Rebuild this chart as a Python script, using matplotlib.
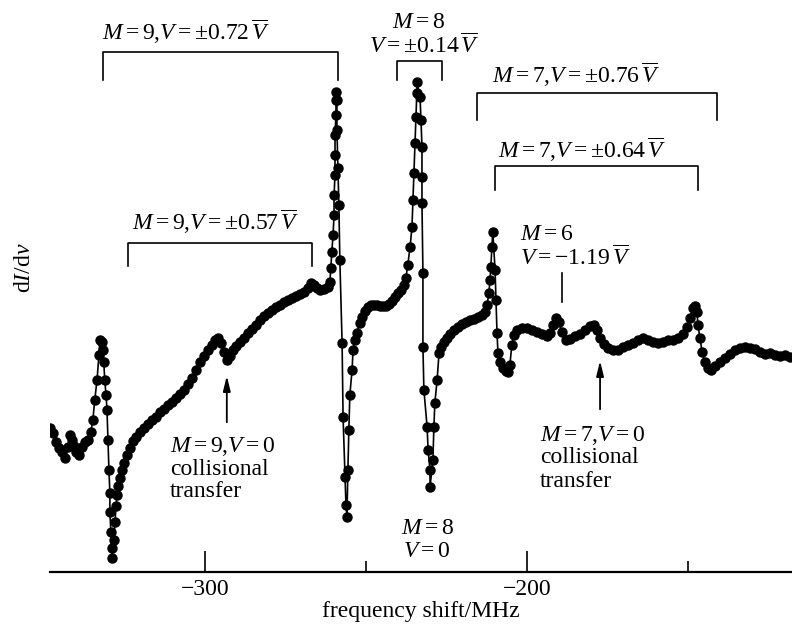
import matplotlib
matplotlib.use("Agg")
import matplotlib.pyplot as plt

plt.rcParams['font.family'] = ['Liberation Serif', 'DejaVu Serif']
plt.rcParams['mathtext.fontset'] = 'custom'
plt.rcParams['mathtext.rm'] = 'Liberation Serif'
plt.rcParams['mathtext.it'] = 'Liberation Serif:italic'
plt.rcParams['mathtext.bf'] = 'Liberation Serif:bold'

# frequency shift (MHz) and derivative signal dI/dnu (arbitrary units)
freq = [
    -348.1, -347.2, -346.3, -345.3, -344.4, -343.5, -342.5, -341.9, -341.3, -340.7,
    -340.1, -339.1, -338.2, -337.3, -336.3, -335.4, -334.8, -334.2, -333.5, -332.9,
    -332.6, -332.0, -331.7, -331.4, -331.1, -330.7, -330.4, -330.1, -329.8, -329.5,
    -329.5, -329.2, -328.9, -328.9, -328.3, -327.9, -327.6, -327.3, -327.0, -326.4,
    -325.8, -325.2, -324.2, -323.3, -322.4, -321.4, -320.2, -318.9, -317.7, -316.5,
    -315.2, -314.0, -312.7, -311.5, -310.2, -309.0, -307.8, -306.5, -305.3, -304.0,
    -302.8, -301.5, -300.3, -299.1, -297.8, -296.9, -296.0, -295.0, -294.1, -293.2,
    -292.2, -291.3, -290.4, -289.1, -287.9, -286.6, -285.4, -284.2, -282.9, -281.7,
    -280.4, -279.2, -278.0, -276.7, -275.5, -274.2, -273.0, -271.7, -270.5, -269.3,
    -268.0, -267.1, -266.1, -265.2, -264.3, -263.0, -261.8, -261.2, -260.9, -260.6,
    -260.2, -259.9, -259.9, -259.6, -259.6, -259.6, -259.3, -259.3, -259.3,
    -259.0, -259.0, -258.7, -258.4, -258.1, -257.4, -257.1, -256.5, -256.2, -255.9,
    -255.6, -255.3, -255.0, -254.3, -254.0, -253.4, -252.8, -251.9, -251.2, -250.3,
    -249.4, -248.4, -247.5, -246.6, -245.6, -244.7, -243.8, -242.9, -241.9, -241.0,
    -240.1, -239.1, -238.2, -237.6, -237.0, -236.3, -235.7, -235.4, -235.1, -234.8,
    -234.5, -234.2, -234.2,
    -233.2, -232.9, -232.6, -232.6, -232.6, -232.3, -232.3, -232.0, -231.0, -230.7,
    -230.1, -230.1,
    -229.2, -228.9, -228.6, -227.9, -227.3, -226.7, -225.8, -224.8, -223.9, -222.7,
    -221.4, -220.2, -218.9, -217.7, -216.5, -215.2, -214.0, -213.0, -212.4, -211.8,
    -211.5, -211.2, -210.9, -210.6,
    -209.9, -209.6, -209.3, -209.0, -208.4, -207.5, -206.5, -205.9, -205.3, -204.7,
    -204.0, -203.1, -201.5, -200.0, -198.4, -196.9, -195.3, -193.8, -192.9, -191.9,
    -191.0, -190.1, -189.1, -187.9, -186.6, -185.1, -183.5, -182.0, -180.4, -179.2,
    -178.3, -177.3, -176.1, -174.8, -173.3, -171.7, -170.2, -168.6, -167.1, -165.5,
    -164.0, -162.4, -160.9, -159.3, -157.8, -156.2, -154.7, -153.1, -151.5, -150.3,
    -149.4, -148.4, -147.8, -147.2, -146.9, -146.3, -145.6, -144.7, -143.8, -142.9,
    -141.6, -140.1, -138.5, -137.0, -135.4, -133.8, -132.3, -130.7, -129.2, -127.6,
    -126.1, -124.5, -123.0, -121.4, -119.9, -118.3,
]
signal = [
    28.8, 27.8, 26.0, 24.8, 24.0, 22.8, 25.0, 27.4, 26.4, 25.2,
    24.0, 23.4, 25.0, 26.0, 26.4, 28.0, 30.4, 34.4, 38.4, 43.4,
    46.4, 46.0, 44.4, 42.0, 38.4, 35.4, 32.4, 26.4, 20.4, 15.8,
    12.0, 8.0, 4.8, 2.8, 6.4, 10.0, 13.2, 15.4, 17.2, 18.8,
    20.4, 21.8, 23.4, 24.8, 26.2, 27.0, 28.0, 28.8, 29.6, 30.4,
    31.0, 32.0, 32.6, 33.4, 34.0, 34.8, 35.6, 36.4, 37.6, 38.8,
    40.4, 42.0, 43.2, 44.4, 45.4, 46.4, 46.8, 45.8, 44.0, 42.4,
    43.2, 44.4, 45.2, 46.0, 46.8, 47.8, 48.6, 49.4, 50.4, 51.2,
    51.8, 52.4, 53.0, 53.4, 54.0, 54.4, 54.8, 55.2, 55.6, 56.0,
    56.8, 57.8, 57.4, 56.8, 56.4, 56.6, 57.0, 58.0, 60.8, 64.0,
    67.4, 71.4, 75.4, 79.4, 83.4, 87.4, 91.4, 94.4, 96.0,
    94.4, 88.4, 80.8, 73.4, 62.4, 45.8, 31.0, 19.0, 13.4, 11.0,
    20.4, 28.4, 35.4, 40.4, 44.4, 46.4, 47.8, 49.8, 51.0, 52.2,
    53.0, 53.4, 53.4, 53.4, 53.2, 53.2, 53.2, 53.6, 54.2, 55.0,
    55.8, 56.4, 57.4, 58.8, 61.4, 65.0, 69.0, 74.4, 79.8, 85.8,
    91.0, 95.8, 98.0,
    95.0, 90.4, 85.0, 79.0, 73.8, 59.8, 45.0, 36.4, 29.0, 24.4,
    20.4, 17.0,
    22.4, 29.0, 33.8, 38.4, 43.8, 45.0, 46.0, 46.8, 47.6, 48.4,
    49.0, 49.6, 50.0, 50.4, 50.6, 51.0, 51.4, 52.0, 53.4, 55.8,
    58.4, 61.0, 65.0, 68.0,
    60.4, 54.4, 47.8, 43.8, 42.0, 40.8, 40.2, 40.0, 41.4, 45.4,
    47.4, 48.4, 48.8, 48.8, 48.4, 48.0, 47.6, 47.2, 47.8, 49.4,
    50.8, 50.0, 48.0, 46.4, 46.6, 47.2, 47.6, 48.4, 49.2, 49.4,
    48.4, 46.8, 45.6, 44.8, 44.4, 44.4, 45.0, 45.4, 45.8, 46.4,
    46.8, 46.4, 46.0, 45.8, 46.0, 46.4, 46.4, 46.8, 47.6, 49.0,
    50.8, 52.8, 53.2, 52.0, 49.4, 46.8, 44.0, 42.0, 40.8, 40.4,
    41.2, 42.0, 42.8, 43.6, 44.4, 44.8, 45.0, 44.8, 44.6, 44.0,
    43.6, 43.8, 43.4, 43.2, 43.4, 43.0,
]

major_ticks = [-300, -200]
major_labels = ['\u2212300', '\u2212200']
minor_ticks = [-250, -150]

fig = plt.figure(figsize=(7.92, 6.29), dpi=100)
ax = fig.add_axes([50 / 792, 57 / 629, 742 / 792, 572 / 629])
ax.set_xlim(-348.1, -117.7)
ax.set_ylim(0, 114.4)

ax.plot(freq, signal, '-o', color='black', lw=1.2, ms=6.5, mfc='black', mec='black')

for s in ['top', 'left', 'right']:
    ax.spines[s].set_visible(False)
ax.spines['bottom'].set_linewidth(1.6)
ax.set_yticks([])
ax.set_xticks(major_ticks)
ax.set_xticklabels(major_labels, fontsize=17)
ax.set_xticks(minor_ticks, minor=True)
ax.tick_params(axis='x', which='major', direction='in', length=15, width=1.2, pad=5)
ax.tick_params(axis='x', which='minor', direction='in', length=8, width=1.2)

fs = 17
lw_b = 1.2

def bracket(x0, x1, ytop, ybot):
    ax.plot([x0, x0, x1, x1], [ybot, ytop, ytop, ybot], color='black', lw=lw_b)

ax.text(-332.0, 106.4, r'$M=9{,}V=\pm0.72\,\overline{V}$', fontsize=fs, ha='left', va='baseline')
bracket(-331.7, -258.7, 104.0, 98.4)

ax.text(-233.8, 108.8, r'$M=8$', fontsize=fs, ha='center', va='baseline')
ax.text(-232.0, 103.8, r'$V=\pm0.14\,\overline{V}$', fontsize=fs, ha='center', va='baseline')
bracket(-240.4, -226.4, 102.2, 98.4)

ax.text(-210.9, 97.8, r'$M=7{,}V=\pm0.76\,\overline{V}$', fontsize=fs, ha='left', va='baseline')
bracket(-215.5, -141.0, 95.8, 90.4)

ax.text(-209.0, 82.8, r'$M=7{,}V=\pm0.64\,\overline{V}$', fontsize=fs, ha='left', va='baseline')
bracket(-209.9, -146.9, 81.2, 76.4)

ax.text(-322.7, 68.4, r'$M=9{,}V=\pm0.57\,\overline{V}$', fontsize=fs, ha='left', va='baseline')
bracket(-323.9, -266.8, 65.8, 61.2)

ax.text(-202.2, 66.4, r'$M=6$', fontsize=fs, ha='left', va='baseline')
ax.text(-202.2, 61.4, r'$V=-1.19\,\overline{V}$', fontsize=fs, ha='left', va='baseline')
ax.plot([-189.1, -189.1], [59.8, 54.0], color='black', lw=lw_b)

arrow_kw = dict(arrowstyle='-|>,head_length=0.9,head_width=0.22', color='black', lw=1.3)
ax.annotate('', xy=(-293.2, 39.8), xytext=(-293.2, 29.4), arrowprops=arrow_kw)
ax.text(-310.9, 24.0, r'$M=9{,}V=0$', fontsize=fs, ha='left', va='baseline')
ax.text(-310.9, 19.4, 'collisional', fontsize=fs, ha='left', va='baseline')
ax.text(-310.9, 15.0, 'transfer', fontsize=fs, ha='left', va='baseline')

ax.annotate('', xy=(-177.3, 42.8), xytext=(-177.3, 32.0), arrowprops=arrow_kw)
ax.text(-196.0, 26.2, r'$M=7{,}V=0$', fontsize=fs, ha='left', va='baseline')
ax.text(-196.0, 21.8, 'collisional', fontsize=fs, ha='left', va='baseline')
ax.text(-196.0, 17.0, 'transfer', fontsize=fs, ha='left', va='baseline')

ax.text(-231.0, 7.6, r'$M=8$', fontsize=fs, ha='center', va='baseline')
ax.text(-231.0, 3.0, r'$V=0$', fontsize=fs, ha='center', va='baseline')

fig.text(24 / 792, 1 - 268 / 629, r'$\mathrm{d}I/\mathrm{d}\nu$', rotation=90,
         fontsize=fs, ha='center', va='center')
fig.text(421 / 792, 1 - 612 / 629, 'frequency shift/MHz', fontsize=fs, ha='center', va='center')

fig.savefig('out.png', dpi=100)
